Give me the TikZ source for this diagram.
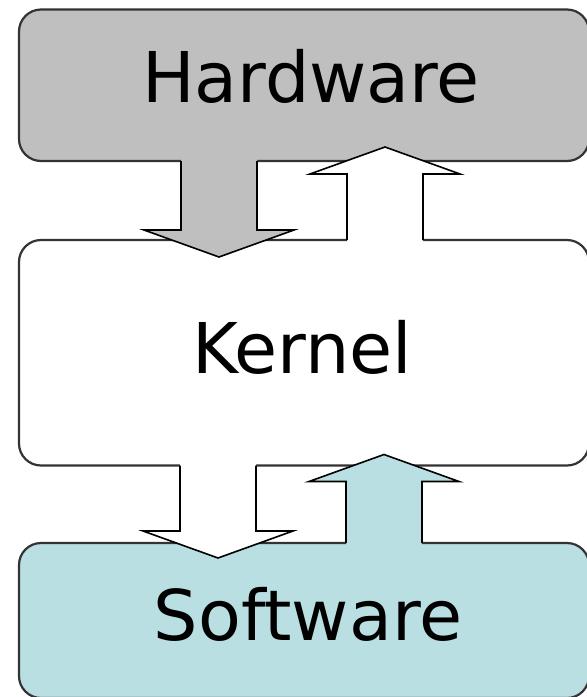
\documentclass[tikz,border=0pt]{standalone}
\usepackage{fontspec}
\setmainfont{DejaVu Sans}
\usepackage{tikz}
\usetikzlibrary{calc,positioning}

\definecolor{hwgray}{RGB}{191,191,191}
\definecolor{swblue}{RGB}{185,223,227}

\tikzset{
    layer/.style={draw=black!80, line width=2.2pt, rounded corners=22pt,
        minimum width=570pt, inner sep=0pt, outer sep=0pt},
    layertext/.style={font=\fontsize{70}{80}\selectfont, inner sep=0pt, anchor=base},
    arrowline/.style={draw=black, line width=1.6pt, line join=miter},
}

% vertical block arrow: fill, base on the box edge, tip
\newcommand{\blockarrow}[3]{%
    \coordinate (ba) at ($(#2)!-3pt!(#3)$);
    \coordinate (hb) at ($(#3)!27pt!(#2)$);
    \fill[#1] ($(ba)+(-38,0)$) -- ($(hb)+(-38,0)$) -- ($(hb)+(-75,0)$) -- (#3)
        -- ($(hb)+(75,0)$) -- ($(hb)+(38,0)$) -- ($(ba)+(38,0)$) -- cycle;
    \draw[arrowline] ($(#2)+(-38,0)$) -- ($(hb)+(-38,0)$) -- ($(hb)+(-75,0)$) -- (#3)
        -- ($(hb)+(75,0)$) -- ($(hb)+(38,0)$) -- ($(#2)+(38,0)$);
}

\begin{document}
\begin{tikzpicture}[x=1pt,y=-1pt]
    \useasboundingbox (0,0) rectangle (587,697);

    \node[layer, fill=hwgray, minimum height=151.5pt] (hw) at (304,85.25) {};
    \node[layer, fill=white, minimum height=225.5pt] (kernel) [below=79pt of hw] {};
    \node[layer, fill=swblue, minimum height=155pt] (sw) [below=77.5pt of kernel] {};

    \node[layertext] (hwtext) at (311,102) {Hardware};
    \node[layertext] (kerneltext) at (302,373) {Kernel};
    \node[layertext] (swtext) at (308,640) {Software};

    % hardware <-> kernel
    \coordinate (d1) at (219,0 |- hw.south);
    \coordinate (d1tip) at ($(219,0 |- kernel.north)+(0,17)$);
    \blockarrow{hwgray}{d1}{d1tip}
    \coordinate (u1) at (385,0 |- kernel.north);
    \coordinate (u1tip) at ($(385,0 |- hw.south)+(0,-14)$);
    \blockarrow{white}{u1}{u1tip}

    % kernel <-> software
    \coordinate (d2) at (218,0 |- kernel.south);
    \coordinate (d2tip) at ($(218,0 |- sw.north)+(0,15)$);
    \blockarrow{white}{d2}{d2tip}
    \coordinate (u2) at (384,0 |- sw.north);
    \coordinate (u2tip) at ($(384,0 |- kernel.south)+(0,-11)$);
    \blockarrow{swblue}{u2}{u2tip}
\end{tikzpicture}
\end{document}
